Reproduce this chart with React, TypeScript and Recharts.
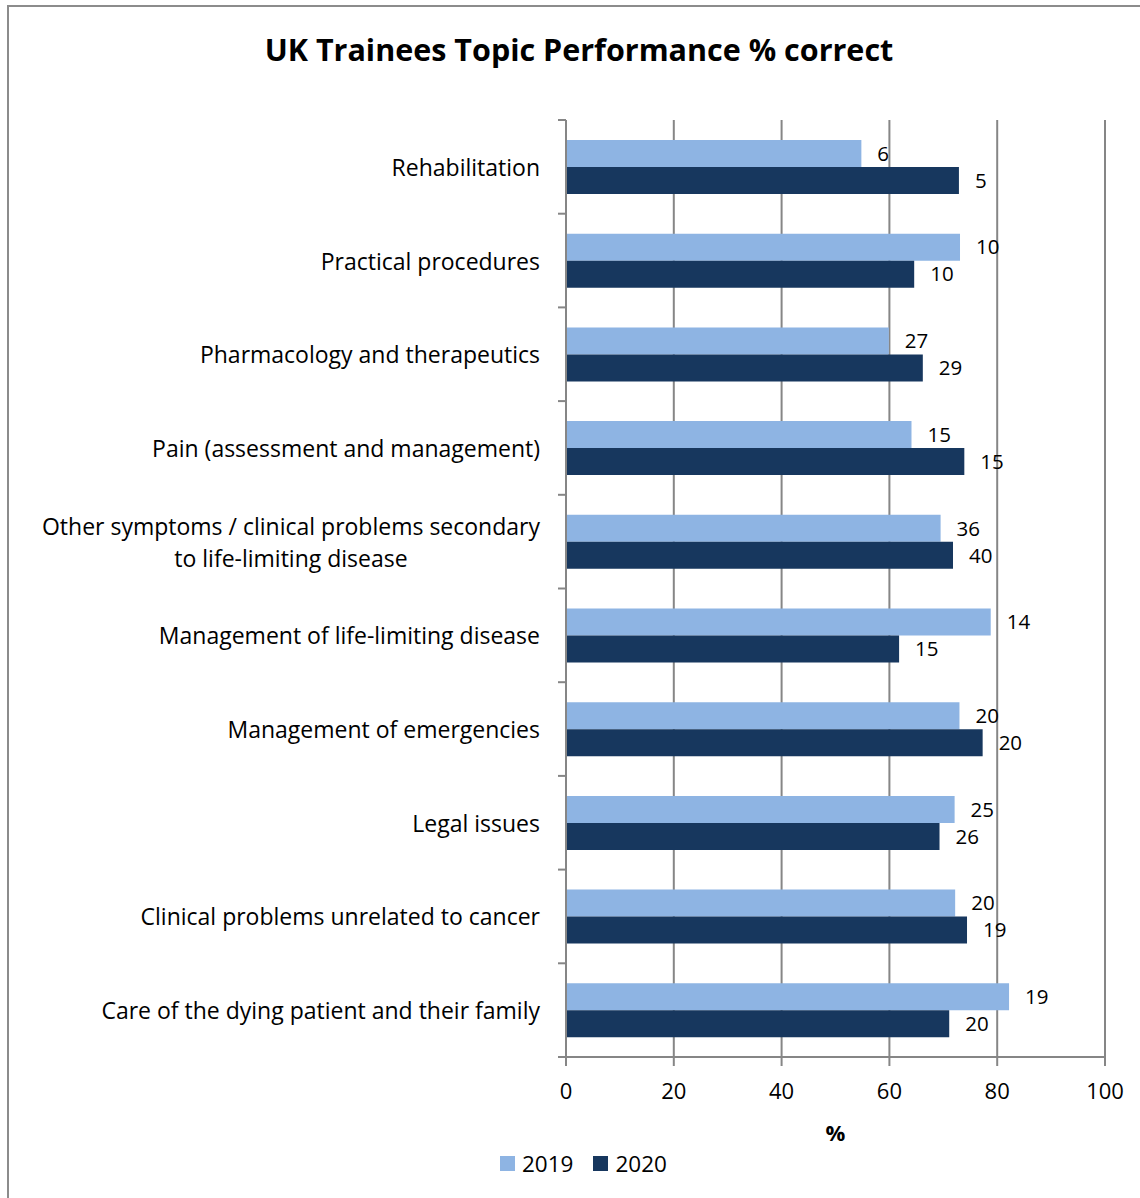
import React from "react";
import { BarChart, Bar, XAxis, YAxis, CartesianGrid, LabelList } from "recharts";

// top-to-bottom order as drawn
const TOPICS = [
  "Rehabilitation",
  "Practical procedures",
  "Pharmacology and therapeutics",
  "Pain (assessment and management)",
  "Other symptoms / clinical problems secondary\nto life-limiting disease",
  "Management of life-limiting disease",
  "Management of emergencies",
  "Legal issues",
  "Clinical problems unrelated to cancer",
  "Care of the dying patient and their family",
];

// % correct
const PCT_2019 = [54.8, 73.1, 59.9, 64.1, 69.5, 78.8, 73.0, 72.1, 72.2, 82.2];
const PCT_2020 = [72.9, 64.6, 66.2, 73.9, 71.8, 61.8, 77.3, 69.3, 74.4, 71.1];

// number of questions shown as data labels
const N_2019 = [6, 10, 27, 15, 36, 14, 20, 25, 20, 19];
const N_2020 = [5, 10, 29, 15, 40, 15, 20, 26, 19, 20];

const X_TICKS = [0, 20, 40, 60, 80, 100];

const data = TOPICS.map((topic, i) => ({
  topic,
  y2019: PCT_2019[i],
  y2020: PCT_2020[i],
  n2019: N_2019[i],
  n2020: N_2020[i],
}));

const FONT = "'Open Sans', Lato, sans-serif";
const LIGHT = "#8eb4e3";
const DARK = "#17375e";
const GRID = "#868686";

const W = 1140;
const H = 1198;
const Y_AXIS_W = 566;
const TOP = 120;
const BOTTOM = 1057;
const BAND = (BOTTOM - TOP) / TOPICS.length;

let ctx: CanvasRenderingContext2D | null = null;
function textWidth(s: string, font: string) {
  if (!ctx) ctx = document.createElement("canvas").getContext("2d");
  if (!ctx) return s.length * 10;
  ctx.font = font;
  return ctx.measureText(s).width;
}

function TopicTick(props: any) {
  const { y, payload, index } = props;
  const right = Y_AXIS_W - 26;
  const lines = String(payload.value).split("\n");
  const fs = 23;
  const lh = 32;
  const w0 = textWidth(lines[0], `${fs}px 'Open Sans'`);
  return (
    <g>
      <line x1={Y_AXIS_W - 8} x2={Y_AXIS_W} y1={y - BAND / 2} y2={y - BAND / 2} stroke={GRID} strokeWidth={2} />
      {index === TOPICS.length - 1 && (
        <line x1={Y_AXIS_W - 8} x2={Y_AXIS_W} y1={y + BAND / 2} y2={y + BAND / 2} stroke={GRID} strokeWidth={2} />
      )}
      {lines.length === 1 ? (
        <text x={right} y={y} textAnchor="end" dominantBaseline="central" fontSize={fs} fontFamily={FONT} fill="#000">
          {lines[0]}
        </text>
      ) : (
        lines.map((ln, k) => (
          <text
            key={k}
            x={right - w0 / 2}
            y={y + (k - (lines.length - 1) / 2) * lh}
            textAnchor="middle"
            dominantBaseline="central"
            fontSize={fs}
            fontFamily={FONT}
            fill="#000"
          >
            {ln}
          </text>
        ))
      )}
    </g>
  );
}

export default function App() {
  return (
    <div style={{ position: "absolute", left: 0, top: 0, width: W, height: H, overflow: "hidden", background: "#fff" }}>
      <div
        style={{
          position: "absolute",
          left: 7,
          top: 5,
          width: 1200,
          height: 1300,
          border: "2px solid #8c8c8c",
        }}
      />
      <div
        style={{
          position: "absolute",
          left: 0,
          width: 1158,
          top: 29,
          textAlign: "center",
          fontFamily: FONT,
          fontWeight: 700,
          fontSize: 30.5,
          lineHeight: "40px",
        }}
      >
        UK Trainees Topic Performance % correct
      </div>
      <div style={{ position: "absolute", left: 0, top: 0 }}>
        <BarChart
          layout="vertical"
          width={W}
          height={H}
          data={data}
          margin={{ top: TOP, right: W - 1105, bottom: H - BOTTOM - 40, left: 0 }}
          barGap={0}
          barSize={27}
        >
          <CartesianGrid horizontal={false} stroke={GRID} strokeWidth={2} />
          <XAxis
            type="number"
            domain={[0, 100]}
            ticks={X_TICKS}
            height={40}
            stroke={GRID}
            strokeWidth={2}
            tickSize={9}
            tickMargin={17}
            tick={{ fill: "#000", fontSize: 22, fontFamily: FONT }}
            label={{ value: "%", position: "bottom", offset: 28, fill: "#000", fontSize: 22, fontWeight: 700, fontFamily: FONT }}
          />
          <YAxis
            type="category"
            dataKey="topic"
            width={Y_AXIS_W}
            stroke={GRID}
            strokeWidth={2}
            tickLine={false}
            interval={0}
            tick={<TopicTick />}
          />
          <Bar dataKey="y2019" fill={LIGHT} isAnimationActive={false}>
            <LabelList dataKey="n2019" position="right" offset={16} fill="#000" fontSize={20.5} fontFamily={FONT} />
          </Bar>
          <Bar dataKey="y2020" fill={DARK} isAnimationActive={false}>
            <LabelList dataKey="n2020" position="right" offset={16} fill="#000" fontSize={20.5} fontFamily={FONT} />
          </Bar>
        </BarChart>
      </div>
      <div
        style={{
          position: "absolute",
          left: 500,
          top: 1148,
          display: "flex",
          alignItems: "center",
          fontFamily: FONT,
          fontSize: 22.5,
        }}
      >
        <span style={{ display: "inline-block", width: 15, height: 15, background: LIGHT, marginRight: 7 }} />
        <span style={{ marginRight: 20 }}>2019</span>
        <span style={{ display: "inline-block", width: 15, height: 15, background: DARK, marginRight: 7 }} />
        <span>2020</span>
      </div>
    </div>
  );
}
